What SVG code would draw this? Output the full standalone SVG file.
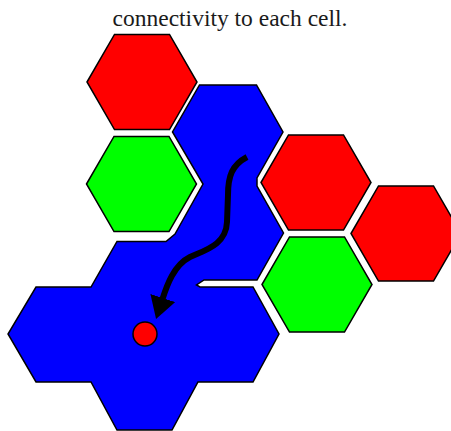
<svg xmlns="http://www.w3.org/2000/svg" width="451" height="431" viewBox="0 0 451 431">
  <style>
    .cell { stroke: #000; stroke-width: 1.5; stroke-linejoin: miter; }
    .red { fill: #ff0000; }
    .green { fill: #00ff00; }
    .blue { fill: #0000ff; }
    .path { fill: none; stroke: #000; stroke-width: 6; stroke-linecap: butt; }
    .caption { font-family: "Liberation Serif", "Times New Roman", serif; font-size: 23.5px; fill: #1a1a1a; }
  </style>
  <defs>
    <marker id="arrowhead" markerUnits="userSpaceOnUse" viewBox="0 0 22 26" markerWidth="22" markerHeight="26" refX="1" refY="13" orient="auto">
      <path d="M0,0 L22,13 L0,26 z" fill="#000"/>
    </marker>
  </defs>

  <text class="caption" x="230" y="26" text-anchor="middle">connectivity to each cell.</text>

  <!-- merged region of connected cells -->
  <g id="region">
    <polygon class="cell blue" points="199.5,85 256.5,85 283,132 257,178 257,186 283.5,233 257,280 204,280 196.5,285 200,287 253,287 279,334 253,382 198,382 172,430 117,430 91,382 36,382 8,334 36,287 91,287 117,241.5 166,241.5 175,234 203,184 172.5,132"/>
  </g>

  <!-- individual cells -->
  <g id="cell-red-1">
    <polygon class="cell red" points="87,82 114.5,34.4 169.5,34.4 197,82 169.5,129.6 114.5,129.6"/>
  </g>
  <g id="cell-green-1">
    <polygon class="cell green" points="86.5,184 114,136.4 169,136.4 196.5,184 169,231.6 114,231.6"/>
  </g>
  <g id="cell-red-2">
    <polygon class="cell red" points="261,182.5 288.5,134.9 343.5,134.9 371,182.5 343.5,230.1 288.5,230.1"/>
  </g>
  <g id="cell-green-2">
    <polygon class="cell green" points="262,284.5 289.5,236.9 344.5,236.9 372,284.5 344.5,332.1 289.5,332.1"/>
  </g>
  <g id="cell-red-3">
    <polygon class="cell red" points="351,233.5 378.5,185.9 433.5,185.9 461,233.5 433.5,281.1 378.5,281.1"/>
  </g>

  <!-- route through the region -->
  <g id="connectors">
    <path class="path" d="M247,157 C232,165 228,176 228,195 L227,222 C226,245 205,250 190,257 C174,265 167,285 162.5,299" marker-end="url(#arrowhead)"/>
  </g>

  <g id="target">
    <circle class="cell red" cx="145" cy="334" r="12"/>
  </g>
</svg>
